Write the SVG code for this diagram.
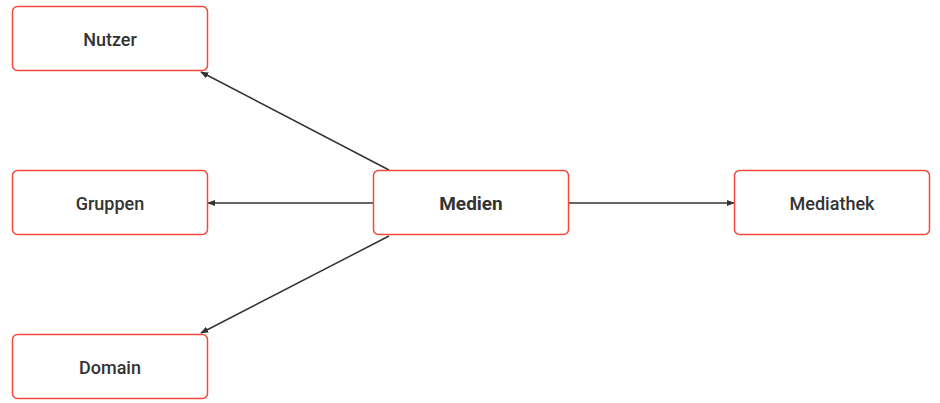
<svg xmlns="http://www.w3.org/2000/svg" width="940" height="403" viewBox="0 0 940 403">
<style>
.box{fill:#fff;stroke:#f5473b;stroke-width:1.5}
.lbl{font-family:Roboto,"Liberation Sans",sans-serif;font-size:18px;font-weight:500;fill:#333;text-anchor:middle;dominant-baseline:central}
.main{font-weight:700;font-size:19px}
.edge{stroke:#333;stroke-width:1.5;fill:none;marker-end:url(#ah)}
</style>
<defs>
<marker id="ah" viewBox="0 0 10 10" refX="9" refY="5" markerWidth="8" markerHeight="8" orient="auto" markerUnits="userSpaceOnUse">
<path d="M0,1 L10,5 L0,9 Z" fill="#333"/>
</marker>
</defs>
<g id="connectors">
<line class="edge" x1="389" y1="170" x2="201" y2="72"/>
<line class="edge" x1="373" y1="203" x2="208" y2="203"/>
<line class="edge" x1="389" y1="236" x2="201" y2="333"/>
<line class="edge" x1="569" y1="203" x2="734" y2="203"/>
</g>
<g id="nutzer"><rect class="box" x="12.5" y="6.5" width="195" height="64" rx="5"/><text class="lbl" x="110" y="39">Nutzer</text></g>
<g id="gruppen"><rect class="box" x="12.5" y="170.5" width="195" height="64" rx="5"/><text class="lbl" x="110" y="203">Gruppen</text></g>
<g id="domain"><rect class="box" x="12.5" y="334.5" width="195" height="64" rx="5"/><text class="lbl" x="110" y="367">Domain</text></g>
<g id="medien"><rect class="box" x="373.5" y="170.5" width="195" height="64" rx="5"/><text class="lbl main" x="471" y="203">Medien</text></g>
<g id="mediathek"><rect class="box" x="734.5" y="170.5" width="195" height="64" rx="5"/><text class="lbl" x="832" y="203">Mediathek</text></g>
</svg>
